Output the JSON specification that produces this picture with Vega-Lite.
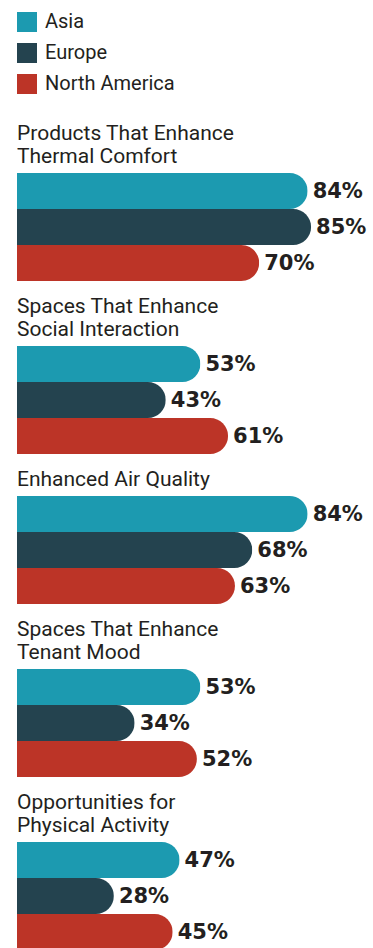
{
  "$schema": "https://vega.github.io/schema/vega-lite/v6.json",
  "padding": {"left": 17, "top": 12, "right": 0, "bottom": 0},
  "background": "white",
  "spacing": 15,
  "data": {"values": [
    {"group": "Thermal", "region": "Asia", "value": 0.84},
    {"group": "Thermal", "region": "Europe", "value": 0.85},
    {"group": "Thermal", "region": "North America", "value": 0.70},
    {"group": "Social", "region": "Asia", "value": 0.53},
    {"group": "Social", "region": "Europe", "value": 0.43},
    {"group": "Social", "region": "North America", "value": 0.61},
    {"group": "Air", "region": "Asia", "value": 0.84},
    {"group": "Air", "region": "Europe", "value": 0.68},
    {"group": "Air", "region": "North America", "value": 0.63},
    {"group": "Mood", "region": "Asia", "value": 0.53},
    {"group": "Mood", "region": "Europe", "value": 0.34},
    {"group": "Mood", "region": "North America", "value": 0.52},
    {"group": "Physical", "region": "Asia", "value": 0.47},
    {"group": "Physical", "region": "Europe", "value": 0.28},
    {"group": "Physical", "region": "North America", "value": 0.45}
  ]},
  "vconcat": [
    {
      "title": {"text": ["Products That Enhance", "Thermal Comfort"]},
      "width": 346, "height": 108,
      "transform": [{"filter": "datum.group === 'Thermal'"}],
      "encoding": {
        "y": {"field": "region", "type": "nominal", "sort": ["Asia", "Europe", "North America"], "axis": null, "scale": {"paddingInner": 0, "paddingOuter": 0}},
        "x": {"field": "value", "type": "quantitative", "axis": null, "scale": {"domain": [0, 1]}}
      },
      "layer": [
        {"mark": {"type": "bar", "cornerRadiusEnd": 18}, "encoding": {"color": {"field": "region", "type": "nominal", "scale": {"domain": ["Asia", "Europe", "North America"], "range": ["#1c9ab0", "#24434f", "#bc3427"]}}}},
        {"mark": {"type": "text", "align": "left", "baseline": "middle", "dx": 5, "dy": 1, "font": "DejaVu Sans", "fontWeight": "bold", "fontSize": 21, "color": "#231f20"}, "encoding": {"text": {"field": "value", "type": "quantitative", "format": ".0%"}}}
      ]
    },
    {
      "title": {"text": ["Spaces That Enhance", "Social Interaction"]},
      "width": 346, "height": 108,
      "transform": [{"filter": "datum.group === 'Social'"}],
      "encoding": {
        "y": {"field": "region", "type": "nominal", "sort": ["Asia", "Europe", "North America"], "axis": null, "scale": {"paddingInner": 0, "paddingOuter": 0}},
        "x": {"field": "value", "type": "quantitative", "axis": null, "scale": {"domain": [0, 1]}}
      },
      "layer": [
        {"mark": {"type": "bar", "cornerRadiusEnd": 18}, "encoding": {"color": {"field": "region", "type": "nominal", "scale": {"domain": ["Asia", "Europe", "North America"], "range": ["#1c9ab0", "#24434f", "#bc3427"]}}}},
        {"mark": {"type": "text", "align": "left", "baseline": "middle", "dx": 5, "dy": 1, "font": "DejaVu Sans", "fontWeight": "bold", "fontSize": 21, "color": "#231f20"}, "encoding": {"text": {"field": "value", "type": "quantitative", "format": ".0%"}}}
      ]
    },
    {
      "title": {"text": ["Enhanced Air Quality"]},
      "width": 346, "height": 108,
      "transform": [{"filter": "datum.group === 'Air'"}],
      "encoding": {
        "y": {"field": "region", "type": "nominal", "sort": ["Asia", "Europe", "North America"], "axis": null, "scale": {"paddingInner": 0, "paddingOuter": 0}},
        "x": {"field": "value", "type": "quantitative", "axis": null, "scale": {"domain": [0, 1]}}
      },
      "layer": [
        {"mark": {"type": "bar", "cornerRadiusEnd": 18}, "encoding": {"color": {"field": "region", "type": "nominal", "scale": {"domain": ["Asia", "Europe", "North America"], "range": ["#1c9ab0", "#24434f", "#bc3427"]}}}},
        {"mark": {"type": "text", "align": "left", "baseline": "middle", "dx": 5, "dy": 1, "font": "DejaVu Sans", "fontWeight": "bold", "fontSize": 21, "color": "#231f20"}, "encoding": {"text": {"field": "value", "type": "quantitative", "format": ".0%"}}}
      ]
    },
    {
      "title": {"text": ["Spaces That Enhance", "Tenant Mood"]},
      "width": 346, "height": 108,
      "transform": [{"filter": "datum.group === 'Mood'"}],
      "encoding": {
        "y": {"field": "region", "type": "nominal", "sort": ["Asia", "Europe", "North America"], "axis": null, "scale": {"paddingInner": 0, "paddingOuter": 0}},
        "x": {"field": "value", "type": "quantitative", "axis": null, "scale": {"domain": [0, 1]}}
      },
      "layer": [
        {"mark": {"type": "bar", "cornerRadiusEnd": 18}, "encoding": {"color": {"field": "region", "type": "nominal", "scale": {"domain": ["Asia", "Europe", "North America"], "range": ["#1c9ab0", "#24434f", "#bc3427"]}}}},
        {"mark": {"type": "text", "align": "left", "baseline": "middle", "dx": 5, "dy": 1, "font": "DejaVu Sans", "fontWeight": "bold", "fontSize": 21, "color": "#231f20"}, "encoding": {"text": {"field": "value", "type": "quantitative", "format": ".0%"}}}
      ]
    },
    {
      "title": {"text": ["Opportunities for", "Physical Activity"]},
      "width": 346, "height": 108,
      "transform": [{"filter": "datum.group === 'Physical'"}],
      "encoding": {
        "y": {"field": "region", "type": "nominal", "sort": ["Asia", "Europe", "North America"], "axis": null, "scale": {"paddingInner": 0, "paddingOuter": 0}},
        "x": {"field": "value", "type": "quantitative", "axis": null, "scale": {"domain": [0, 1]}}
      },
      "layer": [
        {"mark": {"type": "bar", "cornerRadiusEnd": 18}, "encoding": {"color": {"field": "region", "type": "nominal", "scale": {"domain": ["Asia", "Europe", "North America"], "range": ["#1c9ab0", "#24434f", "#bc3427"]}}}},
        {"mark": {"type": "text", "align": "left", "baseline": "middle", "dx": 5, "dy": 1, "font": "DejaVu Sans", "fontWeight": "bold", "fontSize": 21, "color": "#231f20"}, "encoding": {"text": {"field": "value", "type": "quantitative", "format": ".0%"}}}
      ]
    }
  ],
  "config": {
    "view": {"stroke": null},
    "title": {"anchor": "start", "frame": "group", "font": "Roboto", "fontSize": 21, "fontWeight": "normal", "color": "#231f20", "lineHeight": 23, "offset": 6},
    "legend": {"title": null, "orient": "top", "direction": "vertical", "symbolType": "square", "symbolSize": 400, "symbolStrokeWidth": 0, "symbolOpacity": 1, "labelFont": "Roboto", "labelFontSize": 20, "labelColor": "#231f20", "labelOffset": 8, "rowPadding": 11, "offset": 29, "padding": 0}
  }
}
